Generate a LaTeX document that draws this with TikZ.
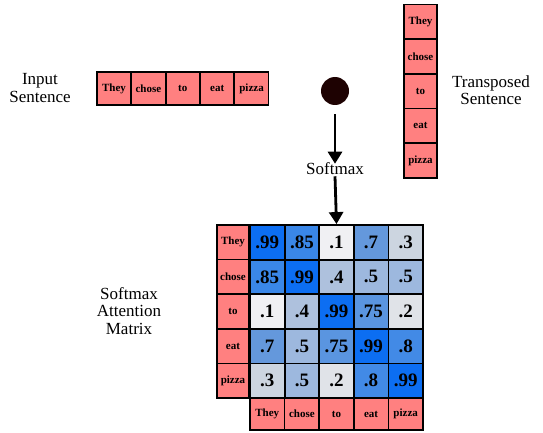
\documentclass[tikz,border=0pt]{standalone}
\usepackage{fontspec}
\setmainfont{Liberation Serif}
\usetikzlibrary{arrows.meta}
\definecolor{salmon}{RGB}{255,128,128}
\definecolor{dotc}{RGB}{30,2,2}
\definecolor{v99}{RGB}{12,110,242}
\definecolor{v85}{RGB}{58,135,232}
\definecolor{v80}{RGB}{66,138,230}
\definecolor{v75}{RGB}{90,149,224}
\definecolor{v70}{RGB}{100,152,220}
\definecolor{v50}{RGB}{157,184,222}
\definecolor{v40}{RGB}{174,193,221}
\definecolor{v30}{RGB}{204,213,224}
\definecolor{v20}{RGB}{224,227,232}
\definecolor{v10}{RGB}{240,240,243}
\tikzset{
  word/.style={draw=black, line width=1.5pt, fill=salmon, inner sep=0pt,
    font=\fontsize{11}{12}\selectfont\bfseries},
  hword/.style={word, minimum width=34pt, minimum height=33pt},
  vword/.style={word, minimum width=33pt, minimum height=34.6pt},
  rlab/.style={word, minimum width=32pt, minimum height=34.6pt},
  clab/.style={word, minimum width=34.6pt, minimum height=32pt},
  cell/.style={draw=black, line width=1.8pt, inner sep=0pt,
    minimum width=34.6pt, minimum height=34.6pt,
    font=\fontsize{19}{19}\selectfont\bfseries},
  caption/.style={align=center, font=\fontsize{17}{17.5}\selectfont},
  arr/.style={line width=2.8pt, -{Triangle[width=14pt,length=12pt]}},
}
\begin{document}
\begin{tikzpicture}[x=1pt,y=-1pt]
\useasboundingbox (0,0) rectangle (543,433);
% input sentence
\foreach \w [count=\i] in {They,chose,to,eat,pizza}
  \node[hword] (in\i) at ({114+34.4*(\i-1)},88.5) {\w};
% transposed sentence
\foreach \w [count=\i] in {They,chose,to,eat,pizza}
  \node[vword] (tr\i) at (420.5,{21.8+34.7*(\i-1)}) {\w};
\node[caption] (inlab) at (40,88) {Input\\Sentence};
\node[caption] (trlab) at (491,90) {Transposed\\Sentence};
\node[caption] (smlab) at (129,311) {Softmax\\Attention\\Matrix};
% dot and softmax
\node[circle, fill=dotc, minimum size=28pt, inner sep=0pt] (dot) at (335,91) {};
\node[font=\fontsize{17}{17}\selectfont, inner sep=1pt] (sm) at (335,169) {Softmax};
% matrix
\def\vals{{{"99","85","10","70","30"},{"85","99","40","50","50"},{"10","40","99","75","20"},{"70","50","75","99","80"},{"30","50","20","80","99"}}}
\foreach \w [count=\i] in {They,chose,to,eat,pizza}{
  \node[rlab] (rl\i) at (233,{242.3+34.6*(\i-1)}) {\w};
  \node[clab] (cl\i) at ({267.3+34.6*(\i-1)},414) {\w};
}
\foreach \r in {1,...,5}
  \foreach \c in {1,...,5}{
    \pgfmathsetmacro{\v}{\vals[\r-1][\c-1]}
    \pgfmathtruncatemacro{\vn}{\v}
    \ifnum\vn=10 \def\lab{.1}\else\ifnum\vn=20 \def\lab{.2}\else\ifnum\vn=30 \def\lab{.3}\else\ifnum\vn=40 \def\lab{.4}\else\ifnum\vn=50 \def\lab{.5}\else\ifnum\vn=70 \def\lab{.7}\else\ifnum\vn=80 \def\lab{.8}\else\def\lab{.\vn}\fi\fi\fi\fi\fi\fi\fi
    \node[cell, fill=v\vn] (c\r\c) at ({267.3+34.6*(\c-1)},{242.3+34.6*(\r-1)}) {\lab};
  }
\draw[arr] (dot.south) ++(0,9) coordinate (a1) (a1) -- ([yshift=-2pt]sm.north);
\draw[arr] (sm.south) -- (c13.north);
\end{tikzpicture}
\end{document}
